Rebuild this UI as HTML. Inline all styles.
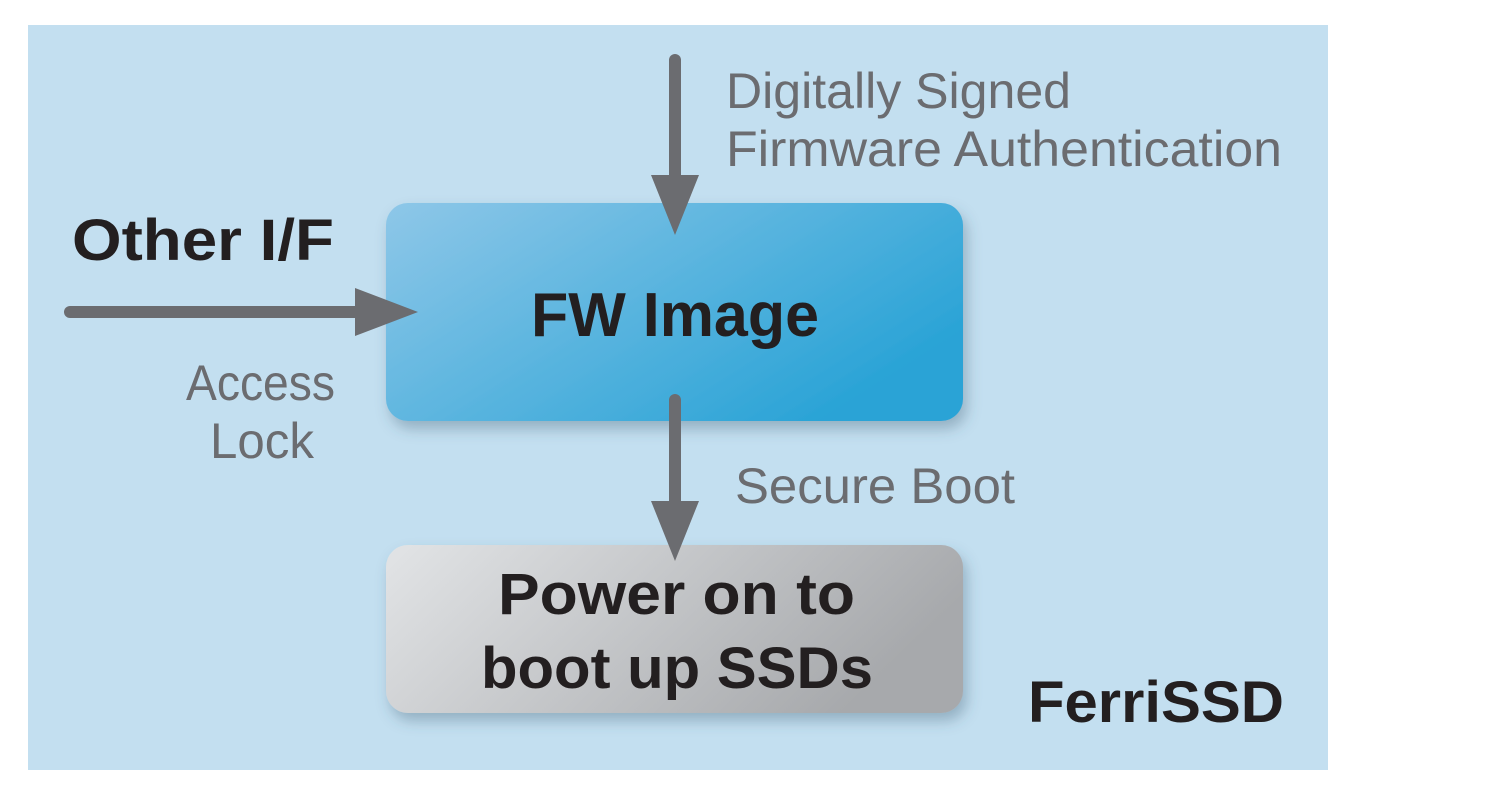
<!DOCTYPE html>
<html><head><meta charset="utf-8"><style>
html,body{margin:0;padding:0;background:#fff;width:1500px;height:786px;overflow:hidden}
svg{display:block}
text{font-family:"Liberation Sans",sans-serif}
</style></head><body>
<svg width="1500" height="786" viewBox="0 0 1500 786" xmlns="http://www.w3.org/2000/svg">
<defs>
<linearGradient id="gb" x1="0" y1="0" x2="1" y2="0.6">
<stop offset="0" stop-color="#8ec7e8"/><stop offset="1" stop-color="#29a3d6"/>
</linearGradient>
<linearGradient id="gg" x1="0" y1="0" x2="1" y2="0.3">
<stop offset="0" stop-color="#e2e4e6"/><stop offset="1" stop-color="#a7a9ac"/>
</linearGradient>
<filter id="sh" x="-10%" y="-10%" width="120%" height="130%">
<feDropShadow dx="4" dy="8" stdDeviation="7" flood-color="#3a5a70" flood-opacity="0.35"/>
</filter>
</defs>
<rect x="28" y="25" width="1300" height="745" fill="#c3dff0"/>
<rect x="386" y="203" width="577" height="218" rx="22" fill="url(#gb)" filter="url(#sh)"/>
<rect x="386" y="545" width="577" height="168" rx="22" fill="url(#gg)" filter="url(#sh)"/>
<g stroke="#6b6c70" stroke-width="12" stroke-linecap="round" fill="#6b6c70">
<line x1="675" y1="60" x2="675" y2="180"/>
<line x1="70" y1="312" x2="360" y2="312"/>
<line x1="675" y1="400" x2="675" y2="505"/>
</g>
<g fill="#6b6c70">
<polygon points="651,175 699,175 675,235"/>
<polygon points="355,288 355,336 418,312"/>
<polygon points="651,501 699,501 675,561"/>
</g>
<g fill="#6b6c70" font-size="50">
<text x="726" y="108" textLength="345" lengthAdjust="spacingAndGlyphs">Digitally Signed</text>
<text x="726" y="166" textLength="556" lengthAdjust="spacingAndGlyphs">Firmware Authentication</text>
<text x="186" y="400" textLength="149" lengthAdjust="spacingAndGlyphs">Access</text>
<text x="210" y="458" textLength="104" lengthAdjust="spacingAndGlyphs">Lock</text>
<text x="735" y="503" textLength="280" lengthAdjust="spacingAndGlyphs">Secure Boot</text>
</g>
<g fill="#231f20" font-weight="bold" font-size="58">
<text x="72" y="260" textLength="262" lengthAdjust="spacingAndGlyphs">Other I/F</text>
<text x="531" y="336" font-size="62" textLength="288" lengthAdjust="spacingAndGlyphs">FW Image</text>
<text x="498" y="614" textLength="357" lengthAdjust="spacingAndGlyphs">Power on to</text>
<text x="481" y="688" textLength="392" lengthAdjust="spacingAndGlyphs">boot up SSDs</text>
<text x="1028" y="722" textLength="256" lengthAdjust="spacingAndGlyphs">FerriSSD</text>
</g>
</svg>
</body></html>
